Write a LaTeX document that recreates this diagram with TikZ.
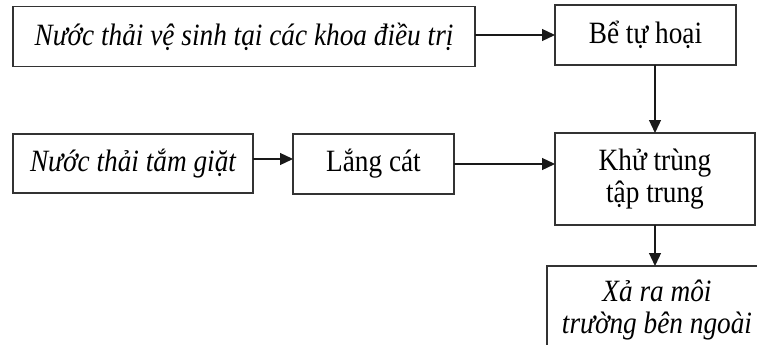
\documentclass[tikz,border=0pt]{standalone}
\usepackage{fontspec}
\setmainfont[FakeStretch=0.88]{Liberation Serif}
\usetikzlibrary{arrows.meta}
\begin{document}
\begin{tikzpicture}[x=1pt,y=-1pt,
  box/.style={draw=black!80, line width=1.4pt, inner sep=0pt, outer sep=0pt,
    align=center, font=\fontsize{31}{32}\selectfont},
  itbox/.style={box, font=\fontsize{31}{32}\selectfont\itshape},
  arr/.style={draw=black!90, line width=1.3pt, -{Triangle[length=13pt,width=12pt]}}]
\useasboundingbox[fill=white] (0,0) rectangle (757,345);
\begin{scope}
\clip (0,0) rectangle (757,345);
% process boxes
\node[itbox, minimum width=462pt, minimum height=60pt] (src1) at (244,36.75)
  {Nước thải vệ sinh tại các khoa điều trị};
\node[box, minimum width=181pt, minimum height=60pt] (tank) at (645.5,35)
  {Bể tự hoại};
\node[itbox, minimum width=240pt, minimum height=59pt] (src2) at (133,163.5)
  {Nước thải tắm giặt};
\node[box, minimum width=161pt, minimum height=60pt] (sand) at (373.5,164)
  {Lắng cát};
\node[box, minimum width=200pt, minimum height=92pt] (disinf) at (655,179)
  {Khử trùng\\tập trung};
% outlet box runs past the right and bottom edges
\node[itbox, minimum width=220pt, minimum height=88pt] (out) at (657,310)
  {Xả ra môi\\trường bên ngoài};
% flows
\draw[arr] (src1.east |- tank.west) -- (tank.west);
\draw[arr] (tank.south -| disinf.north) -- (disinf.north);
\draw[arr] ([yshift=4.5pt]src2.east) -- ([yshift=4.5pt]src2.east -| sand.west);
\draw[arr] (sand.east) -- (sand.east -| disinf.west);
\draw[arr] (disinf.south) -- (disinf.south |- out.north);
\end{scope}
\end{tikzpicture}
\end{document}
